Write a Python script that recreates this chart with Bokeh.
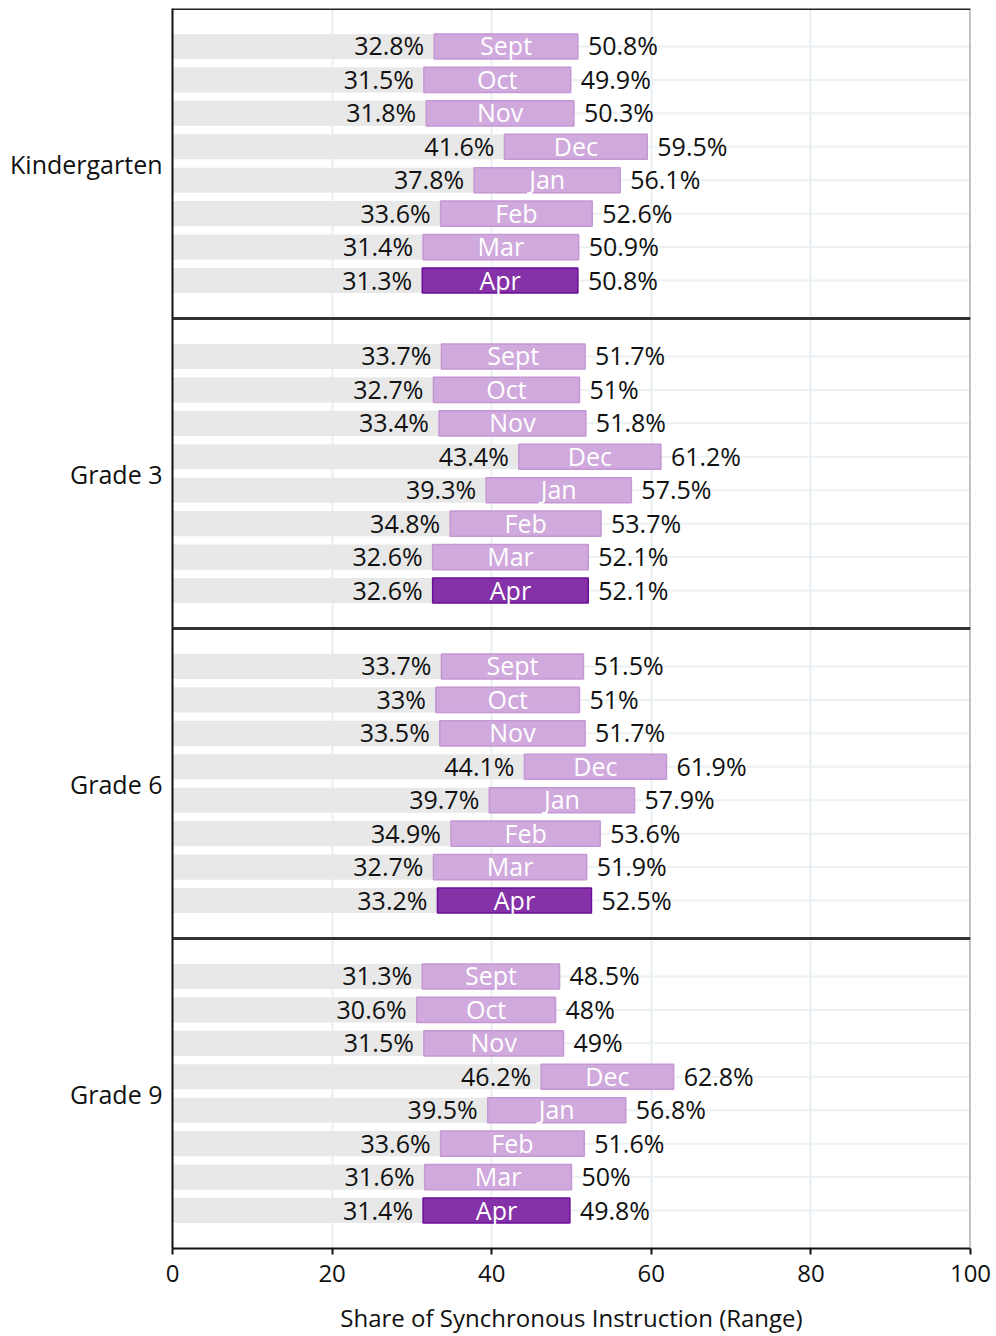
from bokeh.plotting import figure
from bokeh.models import ColumnDataSource, Range1d, FixedTicker, Span
from bokeh.core.properties import value
from bokeh.embed import file_html
from bokeh.resources import INLINE

grades = ["Kindergarten", "Grade 3", "Grade 6", "Grade 9"]
months = ["Sept", "Oct", "Nov", "Dec", "Jan", "Feb", "Mar", "Apr"]

k_low = [32.8, 31.5, 31.8, 41.6, 37.8, 33.6, 31.4, 31.3]
k_high = [50.8, 49.9, 50.3, 59.5, 56.1, 52.6, 50.9, 50.8]
g3_low = [33.7, 32.7, 33.4, 43.4, 39.3, 34.8, 32.6, 32.6]
g3_high = [51.7, 51.0, 51.8, 61.2, 57.5, 53.7, 52.1, 52.1]
g6_low = [33.7, 33.0, 33.5, 44.1, 39.7, 34.9, 32.7, 33.2]
g6_high = [51.5, 51.0, 51.7, 61.9, 57.9, 53.6, 51.9, 52.5]
g9_low = [31.3, 30.6, 31.5, 46.2, 39.5, 33.6, 31.6, 31.4]
g9_high = [48.5, 48.0, 49.0, 62.8, 56.8, 51.6, 50.0, 49.8]

lows = [k_low, g3_low, g6_low, g9_low]
highs = [k_high, g3_high, g6_high, g9_high]

x_ticks = [0, 20, 40, 60, 80, 100]

FONT = "Open Sans"
PANEL_ROWS = 9.27          # panel height in row units
PAD = (PANEL_ROWS - 7) / 2  # padding above first / below last row
U = 10.0 / PANEL_ROWS      # data units per row (panel = 10 units)

rows = dict(y=[], low=[], high=[], month=[], lowlab=[], highlab=[], fill=[], line=[])
for k, g in enumerate(grades):
    for j, m in enumerate(months):
        lo, hi = lows[k][j], highs[k][j]
        rows["y"].append(k * 10 + (PAD + j) * U)
        rows["low"].append(lo)
        rows["high"].append(hi)
        rows["month"].append(m)
        rows["lowlab"].append(f"{lo:g}%")
        rows["highlab"].append(f"{hi:g}%")
        last = (m == "Apr")
        rows["fill"].append("#8531a8" if last else "#d0a9dd")
        rows["line"].append("#6a0f9a" if last else "#c597d5")
src = ColumnDataSource(rows)

p = figure(width=996, height=1336, output_backend="svg", toolbar_location=None,
           x_range=Range1d(0, 100), y_range=Range1d(40, 0),
           min_border_left=172, min_border_right=26, min_border_top=8,
           min_border_bottom=88)
p.outline_line_color = None
p.background_fill_color = "white"

# grid
p.xgrid.ticker = FixedTicker(ticks=[20, 40, 60, 80])
p.xgrid.grid_line_color = "#e8eff2"
p.xgrid.grid_line_width = 2
p.ygrid.grid_line_color = None

# row guide lines
p.segment(x0=0, x1=100, y0="y", y1="y", source=src, line_color="#ecf1f3", line_width=2)

bh = 0.75 * U
p.hbar(y="y", left=0, right="high", height=bh, source=src, fill_color="#e8e8e8", line_color=None)
p.hbar(y="y", left="low", right="high", height=bh, source=src, fill_color="fill",
       line_color="line", line_width=1.5)

p.text(x="low", y="y", text="lowlab", source=src, x_offset=-10, y_offset=-1, text_align="right",
       text_baseline="middle", text_font=value(FONT), text_font_size="25px", text_color="#111111")
p.text(x="high", y="y", text="highlab", source=src, x_offset=10, y_offset=-1, text_align="left",
       text_baseline="middle", text_font=value(FONT), text_font_size="25px", text_color="#111111")
mid_src = ColumnDataSource(dict(x=[(a + b) / 2 for a, b in zip(rows["low"], rows["high"])],
                                y=rows["y"], t=rows["month"]))
p.text(x="x", y="y", text="t", source=mid_src, y_offset=-1, text_align="center", text_baseline="middle",
       text_font=value(FONT), text_font_size="25px", text_color="#ffffff")

# borders
p.add_layout(Span(location=100, dimension="height", line_color="#8a8a8a", line_width=2))
p.add_layout(Span(location=0, dimension="width", line_color="#222222", line_width=3))
for b in [10, 20, 30]:
    p.add_layout(Span(location=b, dimension="width", line_color="#333333", line_width=3))

# axes
p.xaxis.ticker = FixedTicker(ticks=x_ticks)
p.xaxis.axis_label = "Share of Synchronous Instruction (Range)"
p.xaxis.axis_label_text_font = FONT
p.xaxis.axis_label_text_font_style = "normal"
p.xaxis.axis_label_text_font_size = "24px"
p.xaxis.axis_label_text_color = "#111111"
p.xaxis.axis_label_standoff = 16
p.xaxis.major_label_text_font = FONT
p.xaxis.major_label_text_font_size = "24px"
p.xaxis.major_label_text_color = "#111111"
p.xaxis.major_label_standoff = 10
p.xaxis.axis_line_width = 2
p.xaxis.axis_line_color = "#111111"
p.xaxis.major_tick_line_width = 2
p.xaxis.major_tick_line_color = "#111111"
p.xaxis.major_tick_out = 6
p.xaxis.major_tick_in = 0
p.xaxis.minor_tick_line_color = None

p.yaxis.ticker = FixedTicker(ticks=[5, 15, 25, 35])
p.yaxis.major_label_overrides = {5: grades[0], 15: grades[1], 25: grades[2], 35: grades[3]}
p.yaxis.major_label_text_font = FONT
p.yaxis.major_label_text_font_size = "25px"
p.yaxis.major_label_text_color = "#111111"
p.yaxis.major_label_standoff = 4
p.yaxis.axis_line_width = 2
p.yaxis.axis_line_color = "#111111"
p.yaxis.major_tick_line_color = None
p.yaxis.minor_tick_line_color = None

open("out.html", "w").write(file_html(p, INLINE))
